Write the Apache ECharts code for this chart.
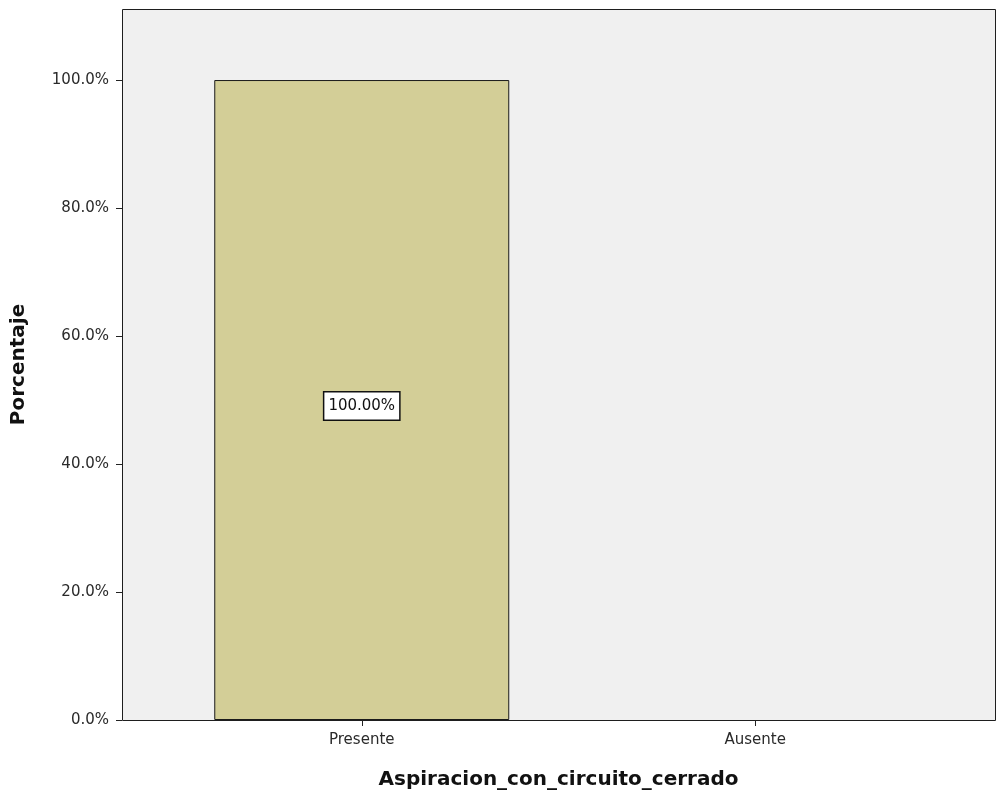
<!DOCTYPE html>
<html>
<head>
<meta charset="utf-8">
<script src="https://cdn.jsdelivr.net/npm/echarts@6/dist/echarts.min.js"></script>
<style>
  html, body { margin: 0; padding: 0; background: #fff; }
  #chart { width: 1000px; height: 798px; }
</style>
</head>
<body>
<div id="chart"></div>
<script>
// Frequency of closed-circuit suction use
const categories = ['Presente', 'Ausente'];
const percentages = [100, 0];
const yTickValues = [0, 20, 40, 60, 80, 100];

const chart = echarts.init(document.getElementById('chart'));

const frame = { x: 122, y: 9, w: 873, h: 711 };
const font = 'DejaVu Sans, Liberation Sans, sans-serif';

// Empty categories get no outline and no value box
const barData = percentages.map(v => v > 0 ? v : {
  value: v,
  itemStyle: { borderWidth: 0, opacity: 0 },
  label: { show: false }
});

chart.setOption({
  animation: false,
  textStyle: { fontFamily: font },
  grid: { left: 165, right: 48, top: frame.y, bottom: 798 - (frame.y + frame.h), containLabel: false },
  graphic: [{
    type: 'rect',
    z: -10,
    shape: { x: frame.x + 0.5, y: frame.y + 0.5, width: frame.w, height: frame.h },
    style: { fill: '#f0f0f0', stroke: '#1e1e1e', lineWidth: 1 }
  }],
  xAxis: {
    type: 'category',
    data: categories,
    name: 'Aspiracion_con_circuito_cerrado',
    nameLocation: 'middle',
    nameGap: 50,
    nameTextStyle: { fontSize: 20, fontWeight: 'bold', color: '#111', fontFamily: font },
    axisLine: { show: false },
    axisTick: { show: true, alignWithLabel: true, length: 6, lineStyle: { color: '#222' }, interval: 0 },
    axisLabel: { fontSize: 15, color: '#2a2a2a', margin: 13, fontFamily: font },
    splitLine: { show: false }
  },
  yAxis: {
    type: 'value',
    min: 0,
    max: 111.1,
    interval: 20,
    offset: 43,
    name: 'Porcentaje',
    nameLocation: 'middle',
    nameGap: 93,
    nameTextStyle: { fontSize: 20, fontWeight: 'bold', color: '#111', fontFamily: font },
    axisLine: { show: false },
    axisTick: { show: true, length: 6, lineStyle: { color: '#222' }, customValues: yTickValues },
    axisLabel: {
      fontSize: 15, color: '#2a2a2a', margin: 13, fontFamily: font,
      customValues: yTickValues,
      formatter: v => v.toFixed(1) + '%'
    },
    splitLine: { show: false }
  },
  series: [{
    type: 'bar',
    data: barData,
    barWidth: 295,
    itemStyle: { color: '#d3ce97', borderColor: '#1a1a1a', borderWidth: 1 },
    label: {
      show: true,
      position: 'inside',
      offset: [0, 6],
      formatter: p => p.value.toFixed(2) + '%',
      fontSize: 15,
      fontFamily: font,
      color: '#111',
      backgroundColor: '#fff',
      borderColor: '#111',
      borderWidth: 1.5,
      padding: [6, 4, 6, 4]
    }
  }]
});
</script>
</body>
</html>
